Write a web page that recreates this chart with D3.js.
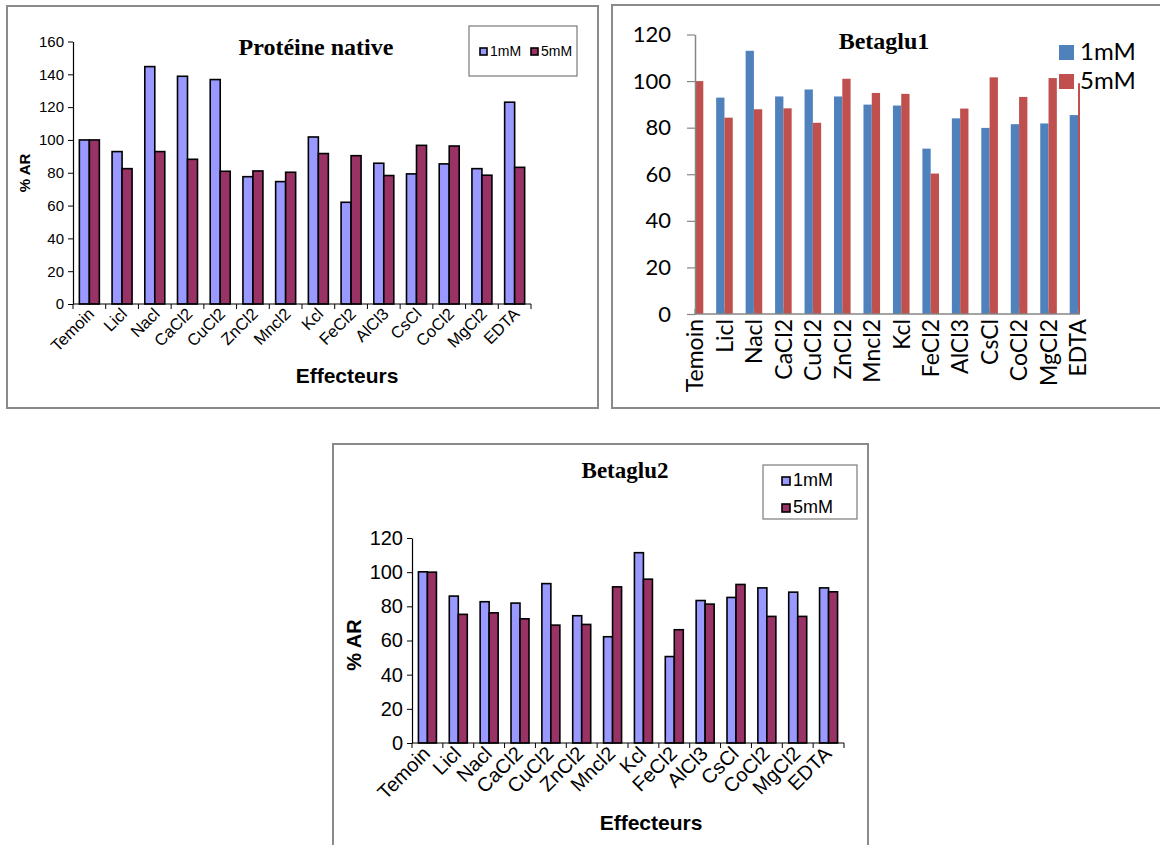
<!DOCTYPE html>
<html><head><meta charset="utf-8">
<script src="https://cdn.jsdelivr.net/npm/d3@7"></script>
<style>
html,body{margin:0;padding:0;background:#fff;}
svg{display:block;}
</style></head>
<body>
<svg id="c" width="1160" height="845"></svg>
<script>
const categories = ["Temoin","Licl","Nacl","CaCl2","CuCl2","ZnCl2","Mncl2","Kcl","FeCl2","AlCl3","CsCl","CoCl2","MgCl2","EDTA"];
const seriesNames = ["1mM","5mM"];

// Protéine native
const native1mM = [100,92.9,144.7,138.8,136.8,77.6,74.6,101.8,62.0,85.8,79.3,85.4,82.5,123.0];
const native5mM = [100,82.5,92.9,88.2,80.9,81.1,80.3,91.7,90.4,78.3,96.7,96.3,78.5,83.3];
// Betaglu1
const beta1_1mM = [100,92.9,113.0,93.4,96.4,93.4,89.9,89.5,71.0,84.0,79.9,81.5,81.8,85.4];
const beta1_5mM = [100,84.3,87.9,88.3,82.1,101.0,94.9,94.5,60.3,88.2,101.6,93.2,101.3,99.1];
// Betaglu2
const beta2_1mM = [100.2,86.0,82.7,81.9,93.3,74.5,62.2,111.4,50.6,83.4,85.2,90.8,88.3,90.8];
const beta2_5mM = [100,75.3,76.2,72.7,69.0,69.4,91.4,95.9,66.3,81.3,92.8,74.1,74.1,88.5];

const ticksNative = [0,20,40,60,80,100,120,140,160];
const ticks120 = [0,20,40,60,80,100,120];

const svg = d3.select("#c");
const ARIAL = "'Liberation Sans', Arial, sans-serif";
const TIMES = "'Liberation Serif', 'Times New Roman', serif";
const CALIBRI = "Lato, 'Open Sans', sans-serif";

function rows(a,b){ return categories.map((c,i)=>({cat:c, vals:[a[i], b[i]]})); }

// ---------- Excel 2003 style panel (panels 1 and 3) ----------
function classicPanel(o){
  const g = svg.append("g");
  g.append("rect").attr("x",o.frame[0]).attr("y",o.frame[1]).attr("width",o.frame[2]).attr("height",o.frame[3])
    .attr("fill","#fff").attr("stroke","#8a8a8a").attr("stroke-width",2);
  const x = d3.scaleBand().domain(categories).range([o.x0,o.x1]);
  const xs = d3.scaleBand().domain(seriesNames).range([-o.bw, o.bw]);
  const y = d3.scaleLinear().domain([0,o.ymax]).range([o.y0,o.yTop]);
  const colors = ["#9999FF","#993366"];
  const data = rows(o.a,o.b);
  g.append("g").selectAll("g").data(data).join("g")
    .attr("transform",d=>`translate(${x(d.cat)+x.bandwidth()/2},0)`)
    .selectAll("rect").data(d=>d.vals.map((v,i)=>({s:seriesNames[i],v,i}))).join("rect")
    .attr("x",d=>xs(d.s)).attr("width",xs.bandwidth())
    .attr("y",d=>y(d.v)).attr("height",d=>y(0)-y(d.v))
    .attr("fill",d=>colors[d.i]).attr("stroke","#000").attr("stroke-width",1.6);
  const ya = g.append("g").attr("transform",`translate(${o.x0},0)`)
    .call(d3.axisLeft(y).tickValues(o.ticks).tickSize(5).tickPadding(o.tpad).tickSizeOuter(0));
  ya.select(".domain").attr("stroke","#000").attr("stroke-width",1.2);
  ya.selectAll(".tick line").attr("stroke","#000");
  ya.selectAll(".tick text").attr("font-family",ARIAL).attr("font-size",o.tfs).attr("fill","#000");
  g.append("line").attr("x1",o.x0).attr("x2",o.x1).attr("y1",o.y0).attr("y2",o.y0).attr("stroke","#000").attr("stroke-width",1.2);
  const bounds = categories.map(c=>x(c)).concat([o.x1]);
  g.append("g").selectAll("line").data(bounds).join("line")
    .attr("x1",d=>d).attr("x2",d=>d).attr("y1",o.y0).attr("y2",o.y0+5).attr("stroke","#000");
  g.append("g").selectAll("text").data(categories).join("text")
    .attr("transform",d=>`translate(${x(d)+x.bandwidth()/2+o.lx},${o.y0+o.ly}) rotate(-45)`)
    .attr("text-anchor","end").attr("font-family",ARIAL).attr("font-size",o.xfs).attr("fill","#000")
    .text(d=>d);
  g.append("text").attr("x",o.title[0]).attr("y",o.title[1]).attr("text-anchor","middle")
    .attr("font-family",TIMES).attr("font-weight","bold").attr("font-size",o.title[3]).text(o.title[2]);
  g.append("text").attr("transform",`translate(${o.ylab[0]},${o.ylab[1]}) rotate(-90)`).attr("text-anchor","middle")
    .attr("font-family",ARIAL).attr("font-weight","bold").attr("font-size",o.ylab[2]).text("% AR");
  g.append("text").attr("x",o.xlab[0]).attr("y",o.xlab[1]).attr("text-anchor","middle")
    .attr("font-family",ARIAL).attr("font-weight","bold").attr("font-size",21).text("Effecteurs");
  const L = o.legend;
  g.append("rect").attr("x",L.box[0]).attr("y",L.box[1]).attr("width",L.box[2]).attr("height",L.box[3])
    .attr("fill","#fff").attr("stroke","#7a7a7a").attr("stroke-width",1.2);
  const li = g.append("g").selectAll("g").data(seriesNames).join("g")
    .attr("transform",(d,i)=>`translate(${L.items[i][0]},${L.items[i][1]})`);
  li.append("rect").attr("x",0).attr("y",-L.sq-1).attr("width",L.sq).attr("height",L.sq)
    .attr("fill",(d,i)=>colors[i]).attr("stroke","#000").attr("stroke-width",1.6);
  li.append("text").attr("x",L.sq+3).attr("y",0).attr("font-family",ARIAL).attr("font-size",L.fs).text(d=>d);
}

classicPanel({
  frame:[7,6,591,402], x0:73, x1:531, y0:304, yTop:41.5, ymax:160, ticks:ticksNative,
  a:native1mM, b:native5mM, bw:10, tfs:15, tpad:4, xfs:16.5, lx:6, ly:11,
  title:[316,55,"Protéine native",24], ylab:[30,173,15], xlab:[347,383],
  legend:{box:[469,26,108,50], items:[[480,56],[531,56]], sq:7, fs:14}
});

classicPanel({
  frame:[333,444,535,420], x0:412, x1:844, y0:743, yTop:538, ymax:120, ticks:ticks120,
  a:beta2_1mM, b:beta2_5mM, bw:9, tfs:20, tpad:4, xfs:20, lx:4, ly:12,
  title:[625,478,"Betaglu2",23], ylab:[361,645,20], xlab:[651,830],
  legend:{box:[763,465,94,54], items:[[782,486],[782,513]], sq:8, fs:18}
});

// ---------- Excel 2007 style panel (Betaglu1) ----------
(function(){
  const g = svg.append("g");
  g.append("rect").attr("x",612).attr("y",5).attr("width",600).attr("height",403)
    .attr("fill","#fff").attr("stroke","#8a8a8a").attr("stroke-width",2);
  const x0=695, x1=1078, y0=314, yTop=34.5;
  const x = d3.scalePoint().domain(categories).range([x0,x1]).padding(0);
  const bw = 8.3;
  const xs = d3.scaleBand().domain(seriesNames).range([-bw,bw]);
  const y = d3.scaleLinear().domain([0,120]).range([y0,yTop]);
  const colors = ["#4F81BD","#C0504D"];
  svg.append("defs").append("clipPath").attr("id","clip2").append("rect")
    .attr("x",x0).attr("y",0).attr("width",x1-x0+2).attr("height",y0+1);
  g.append("g").attr("clip-path","url(#clip2)").selectAll("g").data(rows(beta1_1mM,beta1_5mM)).join("g")
    .attr("transform",d=>`translate(${x(d.cat)},0)`)
    .selectAll("rect").data(d=>d.vals.map((v,i)=>({s:seriesNames[i],v,i}))).join("rect")
    .attr("x",d=>xs(d.s)).attr("width",xs.bandwidth())
    .attr("y",d=>y(d.v)).attr("height",d=>y(0)-y(d.v))
    .attr("fill",d=>colors[d.i]);
  const ya = g.append("g").attr("transform",`translate(${x0},0)`)
    .call(d3.axisLeft(y).tickValues(ticks120).tickSize(8).tickPadding(16).tickSizeOuter(0));
  ya.select(".domain").attr("stroke","#868686").attr("stroke-width",1.5);
  ya.selectAll(".tick line").attr("stroke","#868686").attr("stroke-width",1.2);
  ya.selectAll(".tick text").attr("font-family",CALIBRI).attr("font-size",22).attr("fill","#000");
  g.append("line").attr("x1",x0).attr("x2",x1+2).attr("y1",y0).attr("y2",y0).attr("stroke","#868686").attr("stroke-width",1.5);
  g.append("g").selectAll("line").data(categories).join("line")
    .attr("x1",d=>x(d)).attr("x2",d=>x(d)).attr("y1",y0-5).attr("y2",y0).attr("stroke","#868686").attr("stroke-width",1.2);
  g.append("g").selectAll("text").data(categories).join("text")
    .attr("transform",d=>`translate(${x(d)},${y0+5}) rotate(-90)`)
    .attr("text-anchor","end").attr("dy","0.36em")
    .attr("font-family",CALIBRI).attr("font-size",23).attr("fill","#000").text(d=>d);
  g.append("text").attr("x",884).attr("y",49).attr("text-anchor","middle")
    .attr("font-family",TIMES).attr("font-weight","bold").attr("font-size",24).text("Betaglu1");
  const li = g.append("g").selectAll("g").data(seriesNames).join("g")
    .attr("transform",(d,i)=>`translate(1059,${45+i*29})`);
  li.append("rect").attr("width",15).attr("height",15).attr("fill",(d,i)=>colors[i]);
  li.append("text").attr("x",21).attr("y",15).attr("font-family",CALIBRI).attr("font-size",24).text(d=>d);
})();
</script>
</body></html>
